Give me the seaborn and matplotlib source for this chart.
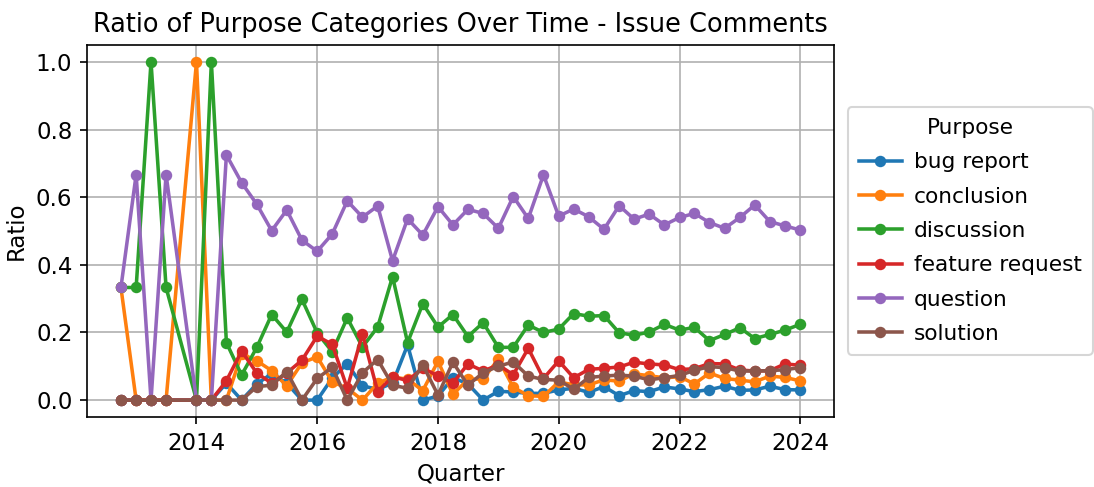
import pandas as pd
import matplotlib
matplotlib.use("Agg")
import matplotlib.pyplot as plt
import matplotlib.dates as mdates
import seaborn as sns

# Quarter start dates (no comments recorded in 2013 Q4)
quarters = (["2012-10-01", "2013-01-01", "2013-04-01", "2013-07-01"]
            + [f"{y}-{m:02d}-01" for y in range(2014, 2024) for m in (1, 4, 7, 10)]
            + ["2024-01-01"])

bug_report = [0, 0, 0, 0, 0, 0, 0.05, 0, 0.048, 0.078, 0.05, 0, 0, 0.065, 0.108,
              0.042, 0.032, 0.05, 0.163, 0, 0.012, 0.066, 0.048, 0, 0.026, 0.024,
              0.02, 0.02, 0.03, 0.035, 0.023, 0.04, 0.013, 0.028, 0.025, 0.039,
              0.033, 0.025, 0.031, 0.041, 0.029, 0.03, 0.041, 0.031, 0.03]
conclusion = [0.333, 0, 0, 0, 1.0, 0, 0, 0.137, 0.116, 0.087, 0.042, 0.11, 0.128,
              0.054, 0.035, 0.0, 0.05, 0.068, 0.062, 0.028, 0.115, 0.017, 0.061,
              0.063, 0.121, 0.038, 0.013, 0.011, 0.054, 0.045, 0.045, 0.06, 0.056,
              0.078, 0.072, 0.066, 0.069, 0.048, 0.08, 0.064, 0.059, 0.054, 0.071,
              0.067, 0.057]
discussion = [0.333, 0.333, 1.0, 0.333, 0, 1.0, 0.17, 0.074, 0.156, 0.253, 0.201,
              0.298, 0.199, 0.143, 0.243, 0.157, 0.216, 0.365, 0.17, 0.285, 0.216,
              0.253, 0.188, 0.229, 0.156, 0.156, 0.222, 0.2, 0.21, 0.256, 0.248,
              0.25, 0.199, 0.192, 0.201, 0.224, 0.207, 0.215, 0.176, 0.194, 0.214,
              0.182, 0.194, 0.207, 0.224]
feature_request = [0, 0, 0, 0, 0, 0, 0.057, 0.145, 0.08, 0.05, 0.08, 0.118, 0.189,
                   0.165, 0.035, 0.196, 0.025, 0.069, 0.058, 0.094, 0.072, 0.05,
                   0.107, 0.086, 0.104, 0.075, 0.153, 0.064, 0.116, 0.066, 0.091,
                   0.094, 0.098, 0.112, 0.107, 0.104, 0.09, 0.093, 0.108, 0.107,
                   0.089, 0.086, 0.087, 0.107, 0.103]
question = [0.333, 0.667, 0, 0.667, 0, 0, 0.725, 0.643, 0.579, 0.501, 0.562, 0.473,
            0.44, 0.491, 0.589, 0.541, 0.574, 0.412, 0.536, 0.488, 0.572, 0.518,
            0.564, 0.552, 0.508, 0.602, 0.537, 0.666, 0.544, 0.565, 0.542, 0.505,
            0.575, 0.535, 0.55, 0.518, 0.54, 0.552, 0.525, 0.508, 0.54, 0.577,
            0.528, 0.515, 0.503]
solution = [0, 0, 0, 0, 0, 0, 0, 0, 0.04, 0.044, 0.084, 0, 0.064, 0.097, 0, 0.081,
            0.12, 0.044, 0.035, 0.104, 0.015, 0.112, 0.044, 0.081, 0.1, 0.113,
            0.071, 0.061, 0.059, 0.032, 0.067, 0.071, 0.074, 0.071, 0.06, 0.066,
            0.073, 0.088, 0.099, 0.096, 0.086, 0.086, 0.087, 0.09, 0.096]

series = {
    "bug report": bug_report,
    "conclusion": conclusion,
    "discussion": discussion,
    "feature request": feature_request,
    "question": question,
    "solution": solution,
}

dates = pd.to_datetime(quarters)
df = pd.concat(
    [pd.DataFrame({"Quarter": dates, "Ratio": vals, "Purpose": name})
     for name, vals in series.items()],
    ignore_index=True,
)

plt.rcParams["font.size"] = 11

fig = plt.figure(figsize=(1094 / 150, 487 / 150), dpi=150)
ax = fig.add_axes([0.0795, 0.1437, 0.6830, 0.7639])

sns.lineplot(data=df, x="Quarter", y="Ratio", hue="Purpose", marker="o",
             markersize=5.5, markeredgewidth=0, linewidth=1.7,
             palette="tab10", ax=ax)

ax.set_title("Ratio of Purpose Categories Over Time - Issue Comments", fontsize=12.3)
ax.set_xlabel("Quarter")
ax.set_ylabel("Ratio")
ax.xaxis.set_major_locator(mdates.YearLocator(2))
ax.xaxis.set_major_formatter(mdates.DateFormatter("%Y"))
ax.grid(True)
ax.legend(title="Purpose", loc="center left", bbox_to_anchor=(1.004, 0.5),
          fontsize=10.4, title_fontsize=10.4, labelspacing=0.66,
          borderpad=0.5, handletextpad=0.55)

fig.savefig("out.png", dpi=150)
